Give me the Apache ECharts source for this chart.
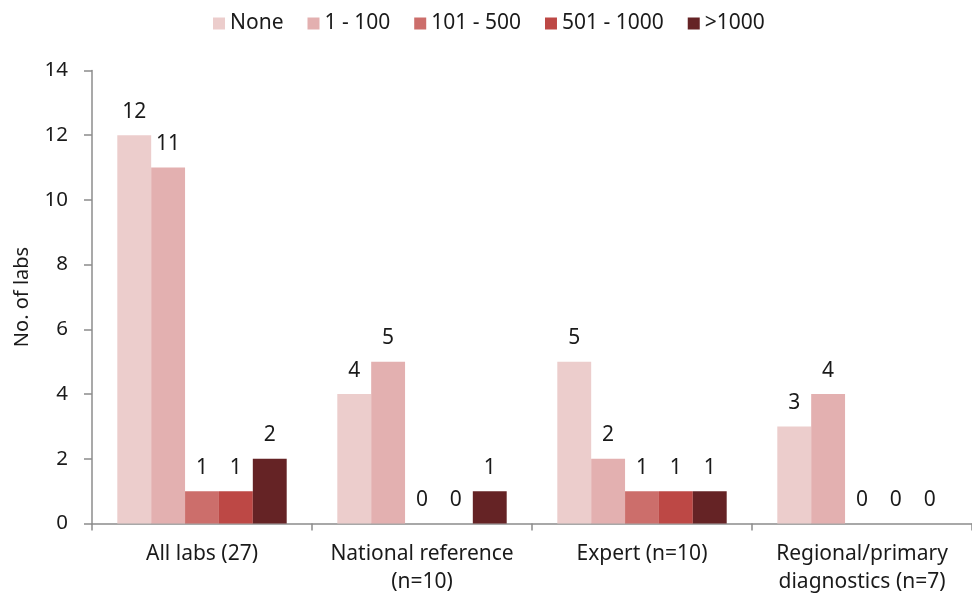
<!DOCTYPE html>
<html>
<head>
<meta charset="utf-8">
<script src="https://cdn.jsdelivr.net/npm/echarts@6/dist/echarts.min.js"></script>
<style>
  html, body { margin: 0; padding: 0; background: #ffffff; }
  #chart { width: 972px; height: 604px; }
</style>
</head>
<body>
<div id="chart"></div>
<script>
// Lab groups along the x axis
const categories = ['All labs (27)', 'National reference\n(n=10)', 'Expert (n=10)', 'Regional/primary\ndiagnostics (n=7)'];

// Number of labs per sample-volume band
const seriesNames = ['None', '1 - 100', '101 - 500', '501 - 1000', '>1000'];
const noneValues = [12, 4, 5, 3];
const upTo100Values = [11, 5, 2, 4];
const upTo500Values = [1, 0, 1, 0];
const upTo1000Values = [1, 0, 1, 0];
const over1000Values = [2, 1, 1, 0];

const yTicks = { min: 0, max: 14, interval: 2 };

const colors = ['#ECCDCC', '#E3B0B0', '#CC6E6B', '#BD4845', '#652325'];
const FONT = 'Noto Sans';

const valueSets = [noneValues, upTo100Values, upTo500Values, upTo1000Values, over1000Values];

const series = seriesNames.map((name, i) => ({
  name: name,
  type: 'bar',
  data: valueSets[i],
  barGap: '0%',
  barCategoryGap: '23%',
  itemStyle: { color: colors[i] },
  label: {
    show: true,
    position: 'top',
    distance: 13,
    color: '#1a1a1a',
    fontFamily: FONT,
    fontSize: 21
  }
}));

const chart = echarts.init(document.getElementById('chart'), null, { renderer: 'canvas' });
chart.setOption({
  animation: false,
  color: colors,
  legend: {
    top: 8,
    left: 208,
    itemWidth: 12,
    itemHeight: 12,
    itemGap: 24,
    icon: 'rect',
    textStyle: { fontFamily: FONT, fontSize: 21, color: '#1a1a1a' },
    data: seriesNames
  },
  grid: {
    left: 92,
    right: -8,
    top: 70.5,
    bottom: 80.5,
    containLabel: false
  },
  xAxis: {
    type: 'category',
    data: categories,
    axisLine: { show: true, lineStyle: { color: '#8c8c8c', width: 1.5 } },
    axisTick: { show: true, length: 7, lineStyle: { color: '#8c8c8c', width: 1.5 } },
    axisLabel: {
      color: '#1a1a1a',
      fontFamily: FONT,
      fontSize: 21,
      margin: 17,
      lineHeight: 28,
      interval: 0
    }
  },
  yAxis: {
    type: 'value',
    min: yTicks.min,
    max: yTicks.max,
    interval: yTicks.interval,
    name: 'No. of labs',
    nameLocation: 'middle',
    nameGap: 60,
    nameTextStyle: { fontFamily: FONT, fontSize: 20, color: '#1a1a1a' },
    axisLine: { show: true, lineStyle: { color: '#8c8c8c', width: 1.5 } },
    axisTick: { show: true, length: 8, lineStyle: { color: '#8c8c8c', width: 1.5 } },
    splitLine: { show: false },
    axisLabel: {
      color: '#1a1a1a',
      fontFamily: FONT,
      fontSize: 20.5,
      margin: 24
    }
  },
  series: series
});
</script>
</body>
</html>
